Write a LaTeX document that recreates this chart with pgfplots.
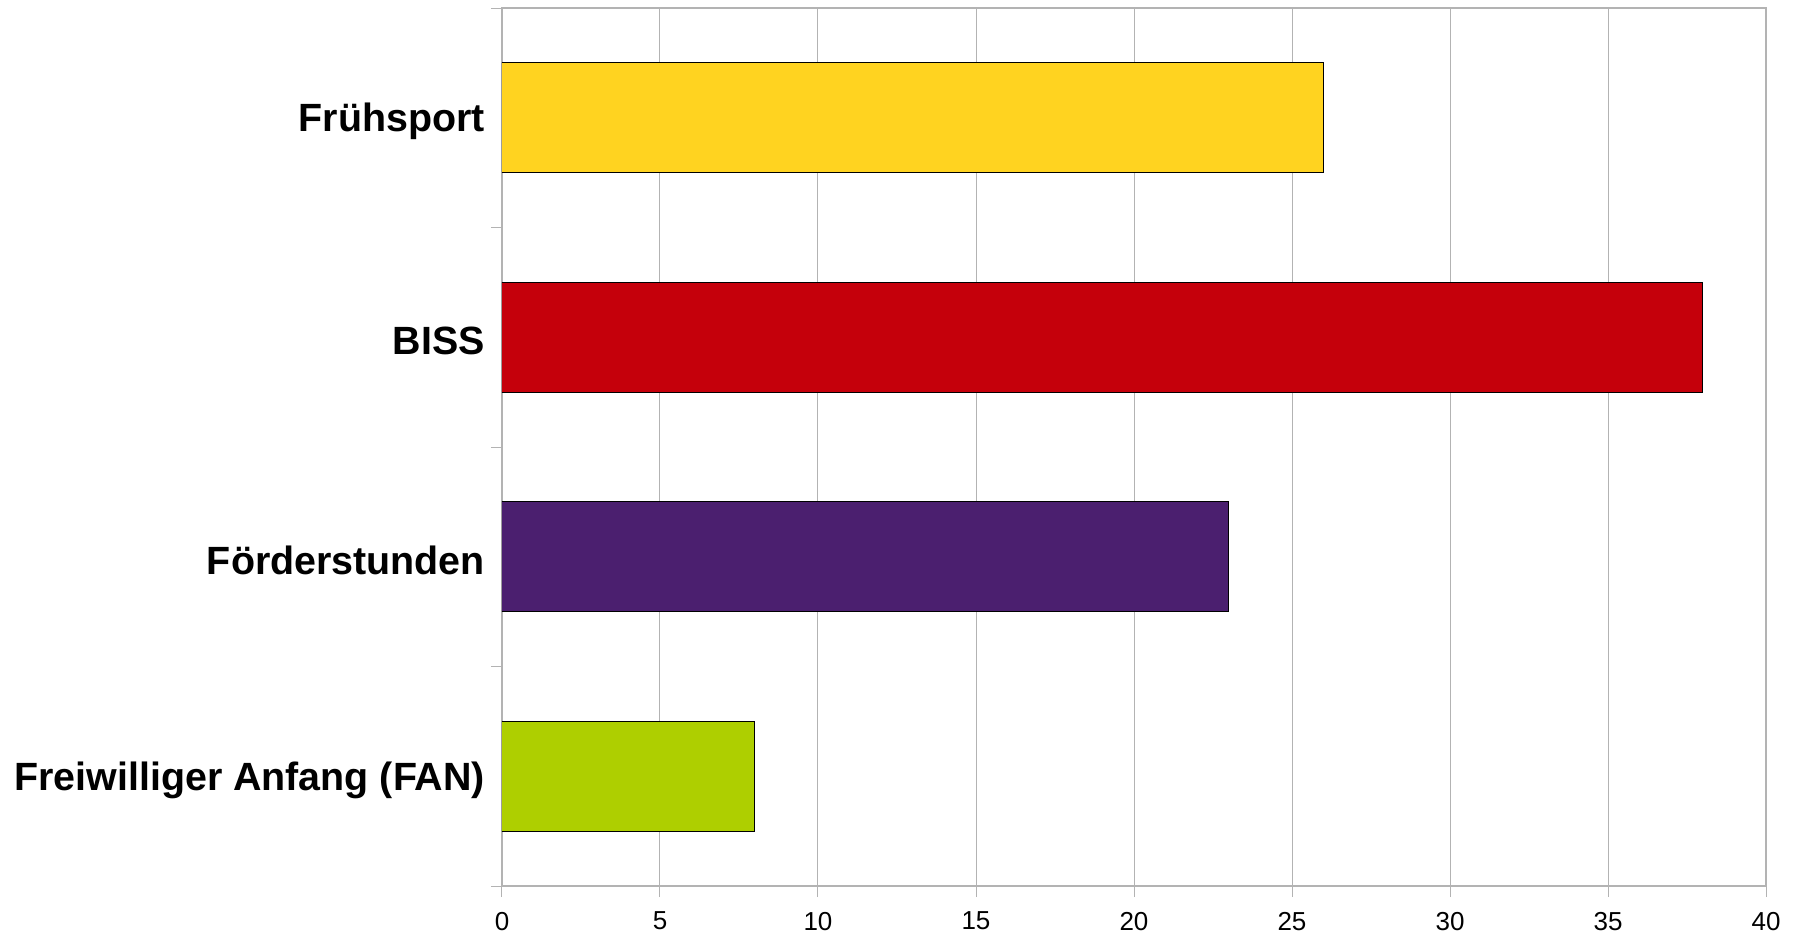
\documentclass[border=0pt]{standalone}
\usepackage{pgfplots}
\pgfplotsset{compat=1.18}
\usepackage{fontspec}
\setmainfont{Liberation Sans}
\definecolor{cyellow}{HTML}{FFD320}
\definecolor{cred}{HTML}{C5000B}
\definecolor{cpurple}{HTML}{4B1F6F}
\definecolor{cgreen}{HTML}{AECF00}
\definecolor{cgrid}{HTML}{B3B3B3}
\begin{document}
\begin{tikzpicture}
\begin{axis}[
  scale only axis,
  width=632pt, height=439pt,
  xbar, bar shift=0pt, bar width=0.5,
  xmin=0, xmax=40,
  ymin=-0.5, ymax=3.5,
  xtick={0,5,...,40},
  xtick pos=bottom, ytick pos=left,
  xmajorgrids,
  major grid style={cgrid, line width=0.5pt},
  axis line style={cgrid, line width=0.6pt},
  tick style={cgrid, line width=0.5pt},
  tick align=outside,
  major tick length=5.5pt,
  ytick={-0.5,0.5,1.5,2.5,3.5},
  yticklabels={},
  extra y ticks={0,1,2,3},
  extra y tick labels={Freiwilliger Anfang (FAN),F\"orderstunden,BISS,Fr\"uhsport},
  extra y tick style={major tick length=0pt, ymajorgrids=false,
    yticklabel style={font=\fontsize{19.7}{23}\selectfont\bfseries, xshift=-5pt, yshift=-2pt}},
  xticklabel style={font=\fontsize{13}{15}\selectfont, yshift=-4pt},
  /pgf/number format/assume math mode=true,
]
\addplot[fill=cyellow, draw=black, line width=0.5pt] coordinates {(26,3)};
\addplot[fill=cred, draw=black, line width=0.5pt] coordinates {(38,2)};
\addplot[fill=cpurple, draw=black, line width=0.5pt] coordinates {(23,1)};
\addplot[fill=cgreen, draw=black, line width=0.5pt] coordinates {(8,0)};
\coordinate (SW) at (rel axis cs:0,0);
\coordinate (NE) at (rel axis cs:1,1);
\end{axis}
\pgfresetboundingbox
\path ([xshift=-251pt,yshift=-25.5pt]SW) rectangle ([xshift=20.5pt,yshift=4pt]NE);
\end{tikzpicture}
\end{document}
